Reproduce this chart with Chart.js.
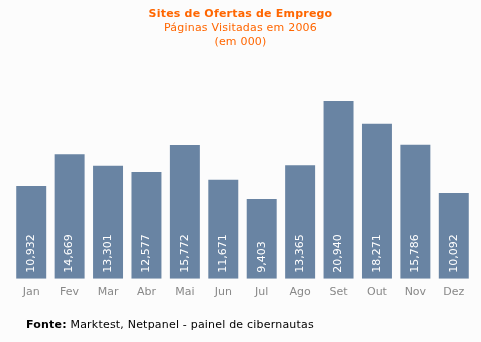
<!DOCTYPE html>
<html>
<head>
<meta charset="utf-8">
<script src="https://cdn.jsdelivr.net/npm/chart.js@4/dist/chart.umd.min.js"></script>
<style>
  html, body { margin: 0; padding: 0; background: #fcfcfc; }
  #wrap { position: relative; width: 481px; height: 342px; overflow: hidden; font-family: "DejaVu Sans", Verdana, sans-serif; }
  #chart { position: absolute; left: 0; top: 0; }
  .head { position: absolute; left: 0; width: 481px; text-align: center; color: #ff6600; font-size: 11px; line-height: 14px; letter-spacing: 0.2px; }
  #t1 { top: 7px; font-weight: bold; }
  #t2 { top: 21px; }
  #t3 { top: 35px; }
  #foot { position: absolute; left: 26px; top: 318px; font-size: 11px; line-height: 14px; color: #000; letter-spacing: 0.2px; }
</style>
</head>
<body>
<div id="wrap">
  <canvas id="chart" width="481" height="342"></canvas>
  <div class="head" id="t1">Sites de Ofertas de Emprego</div>
  <div class="head" id="t2">Páginas Visitadas em 2006</div>
  <div class="head" id="t3">(em 000)</div>
  <div id="foot"><b>Fonte:</b> Marktest, Netpanel - painel de cibernautas</div>
</div>
<script>
// Monthly page visits (thousands), 2006
const months = ["Jan", "Fev", "Mar", "Abr", "Mai", "Jun", "Jul", "Ago", "Set", "Out", "Nov", "Dez"];
const visits = [10932, 14669, 13301, 12577, 15772, 11671, 9403, 13365, 20940, 18271, 15786, 10092];

const fmt = v => v.toLocaleString("en-US");

// Vertical value labels written inside each bar, near its base
const valueLabels = {
  id: "valueLabels",
  afterDatasetsDraw(chart) {
    const ctx = chart.ctx;
    const meta = chart.getDatasetMeta(0);
    ctx.save();
    ctx.fillStyle = "#ffffff";
    ctx.font = '11px "DejaVu Sans", Verdana, sans-serif';
    ctx.textAlign = "left";
    ctx.textBaseline = "middle";
    meta.data.forEach((bar, i) => {
      ctx.save();
      ctx.translate(bar.x, bar.base - 6);
      ctx.rotate(-Math.PI / 2);
      ctx.fillText(fmt(chart.data.datasets[0].data[i]), 0, 0);
      ctx.restore();
    });
    ctx.restore();
  }
};

new Chart(document.getElementById("chart"), {
  type: "bar",
  data: {
    labels: months,
    datasets: [{
      data: visits,
      backgroundColor: "#6984a3",
      borderWidth: 0,
      categoryPercentage: 0.78,
      barPercentage: 1.0
    }]
  },
  options: {
    responsive: false,
    animation: false,
    layout: { padding: { left: 12, right: 8, top: 92, bottom: 36 } },
    plugins: { legend: { display: false }, tooltip: { enabled: false }, title: { display: false } },
    scales: {
      y: { display: false, min: 0, max: 22000 },
      x: {
        grid: { display: false, drawTicks: false },
        border: { display: false },
        ticks: {
          color: "#888888",
          padding: 7,
          font: { family: '"DejaVu Sans", Verdana, sans-serif', size: 11 }
        }
      }
    }
  },
  plugins: [valueLabels]
});
</script>
</body>
</html>
